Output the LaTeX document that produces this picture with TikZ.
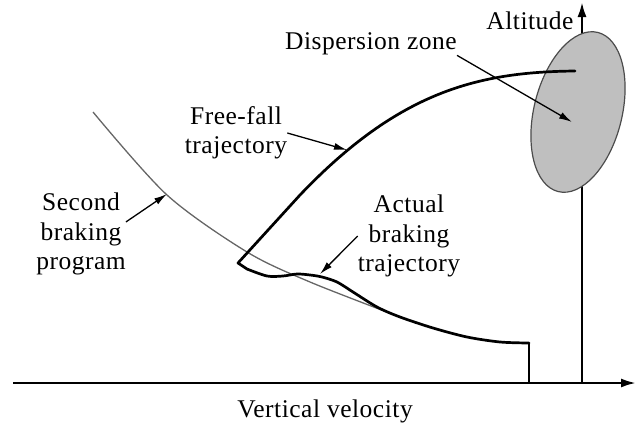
\documentclass[tikz,border=0pt]{standalone}
\usepackage{fontspec}
\setmainfont{Liberation Serif}[LetterSpace=2]
\usetikzlibrary{arrows.meta}

\begin{document}
\begin{tikzpicture}[x=1pt,y=-1pt,
    lbl/.style={font=\fontsize{25.5}{29.5}\selectfont,align=center,inner sep=0pt},
    pointer/.style={-{Latex[length=13pt,width=7pt]},line width=1.3pt},
    axis/.style={-{Latex[length=15pt,width=9pt]},line width=2.4pt},
    traj/.style={line width=2.7pt,line join=round,line cap=round},
    prog/.style={line width=1.3pt,black!60}]
    \useasboundingbox (0,0) rectangle (637,426);
    % axes
    \coordinate (xstart) at (13,383);
    \coordinate (xend) at (636,383);
    \coordinate (o) at (582,383);
    \coordinate (yend) at (582,2);
    \draw[axis] (xstart) -- (xend);
    \draw[axis] (o) -- (yend);
    % dispersion zone
    \filldraw[fill=gray!50,draw=black!70,line width=1.2pt,shift={(578,112)},rotate=76]
        (0,0) ellipse [x radius=82,y radius=44];
    % second braking program
    \draw[prog] plot[smooth] coordinates {(93,112) (167,195) (247,252)
        (310,282) (400,317)};
    % free-fall and actual braking
    \draw[traj] (575,71) .. controls (480,72) and (400,90) .. (300,195) -- (238,263)
        -- plot[smooth] coordinates {(247,269) (267,276) (283,276) (297,274)
        (310,275) (322,277) (337,282) (353,292) (377,307) (400,317) (433,328)
        (467,337) (500,342) (529,343)};
    \coordinate (stop) at (529,343);
    \coordinate (stopax) at (529,383);
    \draw[line width=1.2pt] (stop) -- (stopax);
    % labels
    \node[lbl] (alt) at (530,21) {Altitude};
    \node[lbl] (dz) at (371,44) {Dispersion zone};
    \node[lbl] (ff) at (236,133) {Free-fall\\trajectory};
    \node[lbl] (sb) at (81,234) {Second\\braking\\program};
    \node[lbl] (ab) at (409,236) {Actual\\braking\\trajectory};
    \node[lbl] (vv) at (325,411) {Vertical velocity};
    % pointers
    \coordinate (dztip) at (572,122);
    \coordinate (fftip) at (347,150);
    \coordinate (sbtip) at (167,194);
    \coordinate (abtip) at (320,274);
    \draw[pointer] (dz.south east) -- (dztip);
    \draw[pointer] (ff.east) -- (fftip);
    \draw[pointer] (sb.15) -- (sbtip);
    \draw[pointer] (ab.west) -- (abtip);
\end{tikzpicture}
\end{document}
